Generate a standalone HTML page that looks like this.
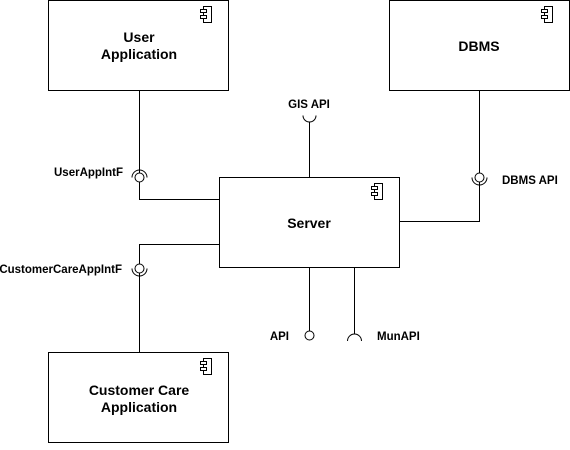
<!DOCTYPE html>
<html><head><meta charset="utf-8"><style>
html,body{margin:0;padding:0;background:#fff;}
svg text{font-family:"Liberation Sans",Arial,sans-serif;font-weight:bold;}
</style></head><body>
<svg width="570" height="445" viewBox="0 0 570 445" xmlns="http://www.w3.org/2000/svg">
<defs>
<g id="ic" fill="#fff" stroke="#000" stroke-width="1">
<rect x="3" y="0" width="8" height="16"/>
<rect x="0" y="3" width="6" height="3"/>
<rect x="0" y="9" width="6" height="3"/>
</g>
</defs>
<g fill="#fff" stroke="#000" stroke-width="1">
<rect x="48.5" y="0.5" width="180" height="90"/>
<rect x="389.5" y="0.5" width="180" height="90"/>
<rect x="219.5" y="177.5" width="180" height="90"/>
<rect x="48.5" y="352.5" width="180" height="90"/>
</g>
<use href="#ic" x="200.5" y="6.5"/>
<use href="#ic" x="541.5" y="6.5"/>
<use href="#ic" x="371.5" y="183.5"/>
<use href="#ic" x="200.5" y="358.5"/>
<g fill="none" stroke="#000" stroke-width="1">
<path d="M139.5 90 V173"/>
<circle cx="139.5" cy="177.5" r="4.5"/>
<path d="M132 177.5 A7.5 7.5 0 0 1 147 177.5"/>
<path d="M139.5 182 V199.5 H219"/>
<path d="M219 244.5 H139.5 V264"/>
<circle cx="139.5" cy="268.5" r="4.5"/>
<path d="M132 268.5 A7.5 7.5 0 0 0 147 268.5"/>
<path d="M139.5 273 V352"/>
<path d="M309.5 177 V122"/>
<path d="M303 115.5 A6.5 6.5 0 0 0 316 115.5"/>
<path d="M479.5 90 V173"/>
<circle cx="479.5" cy="177.5" r="4.5"/>
<path d="M472 177.5 A7.5 7.5 0 0 0 487 177.5"/>
<path d="M479.5 182 V221.5 H400"/>
<path d="M309.5 268 V331"/>
<circle cx="309.5" cy="335.5" r="4.5"/>
<path d="M354.5 268 V334"/>
<path d="M347.5 341 A7 7 0 0 1 361.5 341"/>
</g>
<g font-size="14" text-anchor="middle">
<text x="139" y="42">User</text>
<text x="139" y="59">Application</text>
<text x="479" y="51">DBMS</text>
<text x="309" y="228">Server</text>
<text x="139" y="395">Customer Care</text>
<text x="139" y="412">Application</text>
</g>
<g font-size="11.5">
<text x="309" y="108" text-anchor="middle">GIS API</text>
<text x="123" y="176" text-anchor="end">UserAppIntF</text>
<text x="122" y="273" text-anchor="end">CustomerCareAppIntF</text>
<text x="502" y="184">DBMS API</text>
<text x="289" y="340" text-anchor="end">API</text>
<text x="377" y="340">MunAPI</text>
</g>
</svg>
</body></html>
